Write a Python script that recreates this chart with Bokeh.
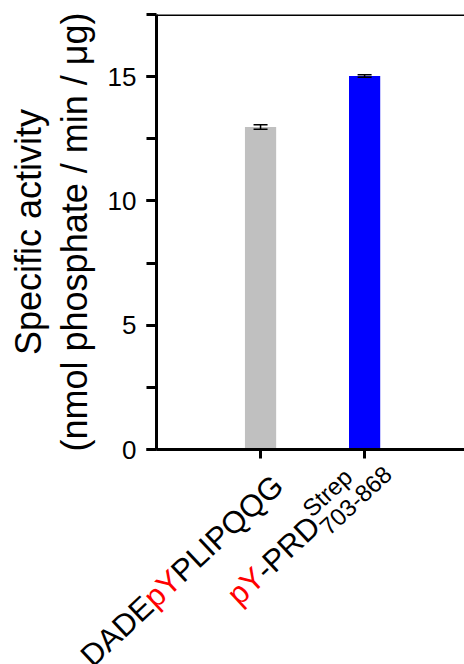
import math
from bokeh.plotting import figure
from bokeh.layouts import column
from bokeh.models import (ColumnDataSource, Range1d, FixedTicker, SingleIntervalTicker,
                          Whisker, TeeHead, Label, Span)
from bokeh.embed import file_html
from bokeh.resources import INLINE

# ---- data ----
categories = ["DADEpYPLIPQQG", "pY-PRD(Strep)(703-868)"]
positions = [1, 2]
values = [12.97, 15.03]
errors = [0.09, 0.05]
bar_colors = ["#C0C0C0", "#0000FF"]
y_ticks = [0, 5, 10, 15]
y_title = "Specific activity\n(nmol phosphate / min / \u03bcg)"

# rich tick-label segments
seg_cat = [0, 0, 0, 1, 1, 1, 1]
seg_text = ["DADE", "pY", "PLIPQQG", "pY", "-PRD", "Strep", "703-868"]
seg_color = ["black", "red", "black", "red", "black", "black", "black"]
seg_role = ["main", "main", "main", "main", "main", "sup", "sub"]

FONT = "Liberation Sans"
MAIN_SIZE = 31
SMALL_SIZE = 24
ANGLE_DEG = 43

# Arial / Liberation Sans advance widths (per 1000 em)
ADV = {'D': 722, 'A': 667, 'E': 667, 'p': 556, 'Y': 667, 'P': 667, 'L': 556, 'I': 278,
       'Q': 778, 'G': 778, '-': 333, 'R': 722, 'S': 667, 't': 278, 'r': 333, 'e': 556,
       '0': 556, '3': 556, '6': 556, '7': 556, '8': 556}

def width(s, size):
    return sum(ADV.get(ch, 556) for ch in s) * size / 1000.0

# layout of labels in the rotated text frame (a along text, b perpendicular up),
# relative to the tick position on the x axis
start_a = {0: -272.0, 1: -199.0}
base_b = {0: -35.0, 1: -19.0}
SUP_SHIFT = 13.0
SUB_SHIFT = -12.0

W = 464
LEFT = 156
TOP = 14
FRAME_H = 435
BOTTOM1 = 11
H1 = TOP + FRAME_H + BOTTOM1
H2 = 664 - H1
X_END = 2.96

p = figure(width=W, height=H1, output_backend="svg", toolbar_location=None,
           x_range=Range1d(0, X_END), y_range=Range1d(0, 17.5),
           min_border_left=LEFT, min_border_right=0, min_border_top=TOP,
           min_border_bottom=BOTTOM1)
p.frame_align = False
p.outline_line_color = None
p.xgrid.visible = False
p.ygrid.visible = False
p.background_fill_color = "white"
p.border_fill_color = "white"

bar_src = ColumnDataSource(dict(
    x=positions, top=values, color=bar_colors,
    upper=[v + e for v, e in zip(values, errors)],
    lower=[v - e for v, e in zip(values, errors)],
))

p.vbar(x="x", top="top", width=0.3, bottom=0, color="color", line_color=None, source=bar_src)

w = Whisker(base="x", upper="upper", lower="lower", source=bar_src,
            line_width=1.5, line_color="black",
            upper_head=TeeHead(size=14, line_width=1.5, line_color="black"),
            lower_head=TeeHead(size=14, line_width=1.5, line_color="black"))
w.level = "overlay"
p.add_layout(w)

p.add_layout(Span(location=17.5, dimension="width", line_color="black", line_width=3))

# y axis
ya = p.yaxis[0]
ya.ticker = SingleIntervalTicker(interval=5, num_minor_ticks=2)
ya.axis_line_width = 3
ya.major_tick_line_width = 3
ya.minor_tick_line_width = 3
ya.major_tick_out = 10
ya.major_tick_in = 0
ya.minor_tick_out = 10
ya.minor_tick_in = 0
ya.major_label_text_font = FONT
ya.major_label_text_font_size = "26px"
ya.major_label_text_color = "black"
ya.major_label_standoff = 10
ya.axis_label = y_title
ya.axis_label_text_font = FONT
ya.axis_label_text_font_size = "36px"
ya.axis_label_text_font_style = "normal"
ya.axis_label_text_color = "black"
ya.axis_label_text_line_height = 1.1
ya.axis_label_standoff = 10

# x axis
xa = p.xaxis[0]
xa.ticker = FixedTicker(ticks=positions)
xa.axis_line_width = 3
xa.major_tick_line_width = 3
xa.major_tick_out = 9
xa.major_tick_in = 0
xa.minor_tick_line_color = None
xa.major_label_overrides = {pos: "" for pos in positions}
xa.major_label_standoff = 0
xa.major_label_text_font_size = "1px"

# second strip below the axis, sharing the same horizontal scale, for rich rotated tick labels
ppu = (W - LEFT) / X_END
q = figure(width=W, height=H2, output_backend="svg", toolbar_location=None,
           x_range=Range1d(-LEFT / ppu, X_END), y_range=Range1d(0, 1),
           x_axis_type=None, y_axis_type=None,
           min_border_left=0, min_border_right=0, min_border_top=0, min_border_bottom=0)
q.frame_align = False
q.outline_line_color = None
q.grid.visible = False
q.background_fill_color = "white"
q.border_fill_color = "white"

axis_level = H2 + BOTTOM1  # screen height of the x axis line above the strip's bottom

th = math.radians(ANGLE_DEG)
ct, st = math.cos(th), math.sin(th)
cursor = dict(start_a)
for cat, txt, col, role in zip(seg_cat, seg_text, seg_color, seg_role):
    if role == "main":
        a = cursor[cat]
        b = base_b[cat]
        size = MAIN_SIZE
        cursor[cat] += width(txt, size)
    else:
        a = cursor[cat]
        b = base_b[cat] + (SUP_SHIFT if role == "sup" else SUB_SHIFT)
        size = SMALL_SIZE
    q.add_layout(Label(x=positions[cat], y=axis_level, y_units="screen", text=txt,
                       x_offset=a * ct - b * st, y_offset=a * st + b * ct,
                       angle=th, text_color=col,
                       text_font_size=f"{size}px", text_font=FONT,
                       text_align="left", text_baseline="alphabetic"))

layout = column(p, q, spacing=0)
open("out.html", "w").write(file_html(layout, INLINE))
